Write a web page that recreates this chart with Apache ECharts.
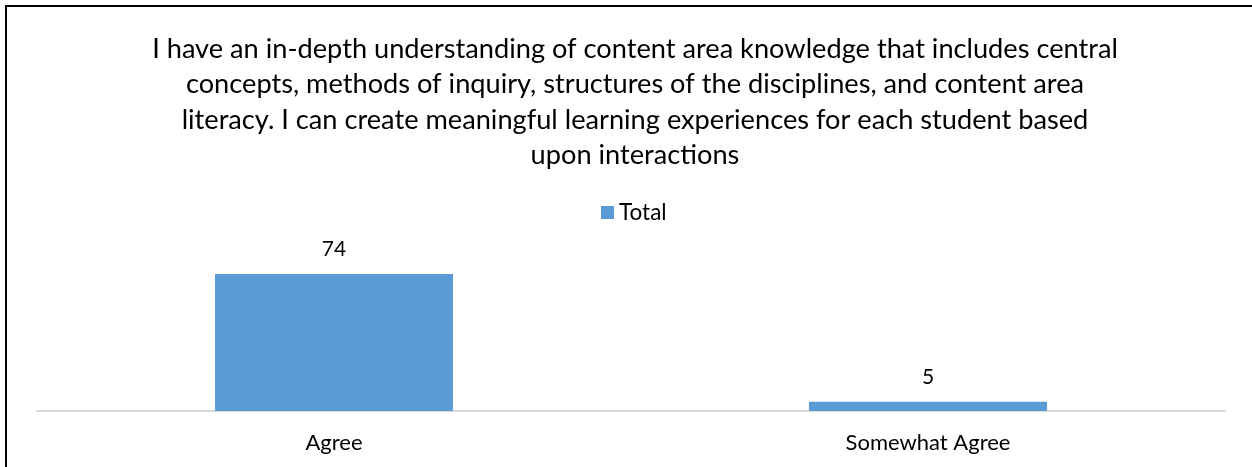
<!DOCTYPE html>
<html><head><meta charset="utf-8">
<style>html,body{margin:0;padding:0;background:#fff;}#c{width:1252px;height:467px;}</style>
<script src="https://cdn.jsdelivr.net/npm/echarts@6/dist/echarts.min.js"></script>
</head><body><div id="c"></div>
<script>
const titleLines = [
  "I have an in-depth understanding of content area knowledge that includes central",
  "concepts, methods of inquiry, structures of the disciplines, and content area",
  "literacy. I can create meaningful learning experiences for each student based",
  "upon interactions"
];
const categories = ["Agree", "Somewhat Agree"];
const seriesName = "Total";
const totals = [74, 5];

const FONT = "Lato, 'Liberation Sans', sans-serif";
const chart = echarts.init(document.getElementById('c'), null, {renderer: 'canvas'});
chart.setOption({
  animation: false,
  backgroundColor: '#fff',
  graphic: [{
    type: 'rect', silent: true, z: 100,
    shape: {x: 6, y: 6, width: 1270, height: 490},
    style: {fill: 'none', stroke: '#000', lineWidth: 2}
  }],
  title: {
    text: titleLines.join('\n'),
    left: 630, textAlign: 'center', top: 26,
    textStyle: {fontFamily: FONT, fontSize: 27.2, fontWeight: 'normal', color: '#000', lineHeight: 35.5}
  },
  legend: {
    data: [seriesName], top: 201, left: 601, padding: 0,
    itemWidth: 13, itemHeight: 13, itemGap: 6, icon: 'rect',
    textStyle: {fontFamily: FONT, fontSize: 22.5, color: '#000'}
  },
  grid: {left: 37, right: 27, top: 263, bottom: 56, containLabel: false, outerBoundsMode: 'none'},
  xAxis: {
    type: 'category', data: categories,
    axisLine: {lineStyle: {color: '#d9d9d9', width: 2}},
    axisTick: {show: false},
    axisLabel: {fontFamily: FONT, fontSize: 22, color: '#000', margin: 21}
  },
  yAxis: {
    type: 'value', min: 0, max: 80, show: false,
    splitLine: {show: false}
  },
  series: [{
    name: seriesName, type: 'bar', data: totals,
    barWidth: 238,
    itemStyle: {color: '#5b9bd5'},
    label: {show: true, position: 'top', distance: 14, fontFamily: FONT, fontSize: 21, color: '#000'}
  }]
});
</script></body></html>
